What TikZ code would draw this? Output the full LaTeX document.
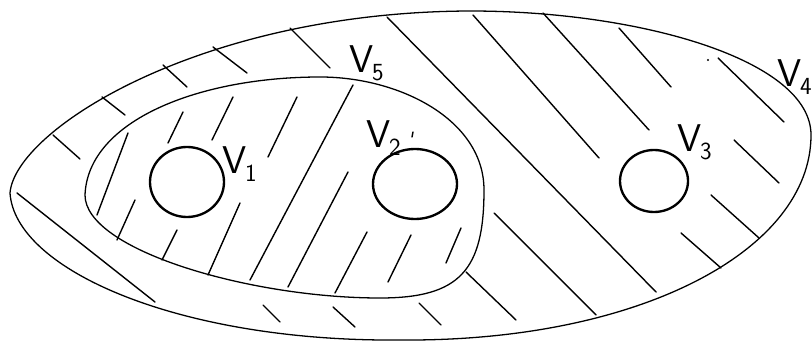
\documentclass[tikz,border=0pt]{standalone}
\tikzset{rim/.style={draw, line width=1.1pt},
  hole/.style={draw, line width=2pt},
  hatch/.style={draw, line width=1.2pt, line cap=round},
  lbl/.style={inner sep=0pt, anchor=base west, font=\sffamily\fontsize{33}{35}\selectfont},
}
\newcommand{\vlab}[1]{V\kern-1pt\raisebox{-6pt}{\fontsize{21}{21}\selectfont #1}}

\begin{document}
\begin{tikzpicture}[x=0.03cm,y=-0.03cm]
  \useasboundingbox (0,0) rectangle (812,342);
  % outer region V4
  \draw[rim] (10,193) .. controls (15,130) and (200,12) .. (470,11)
    .. controls (640,11) and (811,60) .. (811,135)
    .. controls (811,250) and (640,342) .. (400,340)
    .. controls (180,342) and (15,270) .. cycle;
  % inner region V5
  \draw[rim] (85,195) .. controls (88,120) and (200,77) .. (320,77)
    .. controls (400,77) and (484,120) .. (484,190)
    .. controls (484,270) and (460,298) .. (380,298)
    .. controls (250,298) and (85,250) .. cycle;
  % holes
  \draw[hole] (187,182) ellipse (37 and 35);
  \draw[hole] (415,184) ellipse (42 and 35);
  \draw[hole] (654,181) ellipse (34 and 31);
  % hatching between the rims
  \draw[hatch] (290,28) -- (330,68)  (213,47) -- (247,73)
    (163,65) -- (187,87)  (102,97) -- (125,115)  (53,135) -- (80,159)
    (17,193) -- (155,302)  (263,305) -- (280,322)  (333,307) -- (355,327)
    (419,303) -- (441,325);
  % hatching inside V5
  \draw[hatch] (353,85) -- (250,280)  (297,97) -- (268,157)
    (233,97) -- (212,140)  (183,112) -- (168,143)  (128,133) -- (97,215)
    (135,200) -- (117,240)  (177,230) -- (162,260)  (240,203) -- (208,275)
    (348,172) -- (288,287)  (367,232) -- (335,293)  (411,235) -- (388,282)
    (461,228) -- (446,263);
  % hatching around V3
  \draw[hatch] (387,17) -- (656,292)  (473,15) -- (599,158)
    (543,13) -- (649,130)  (619,28) -- (671,87)  (494,213) -- (596,315)
    (466,272) -- (516,320)  (718,58) -- (784,122)  (734,140) -- (779,183)
    (711,195) -- (759,238)  (681,233) -- (721,268)
    (413,132) -- (412,137);
  \fill (708,60) circle (1.2);
  % labels
  \node[lbl] (v1) at (222,174) {\vlab{1}};
  \node[lbl] (v2) at (366,148) {\vlab{2}};
  \node[lbl] (v3) at (677,152) {\vlab{3}};
  \node[lbl] (v4) at (777,87) {\vlab{4}};
  \node[lbl] (v5) at (349,73) {\vlab{5}};
\end{tikzpicture}
\end{document}
